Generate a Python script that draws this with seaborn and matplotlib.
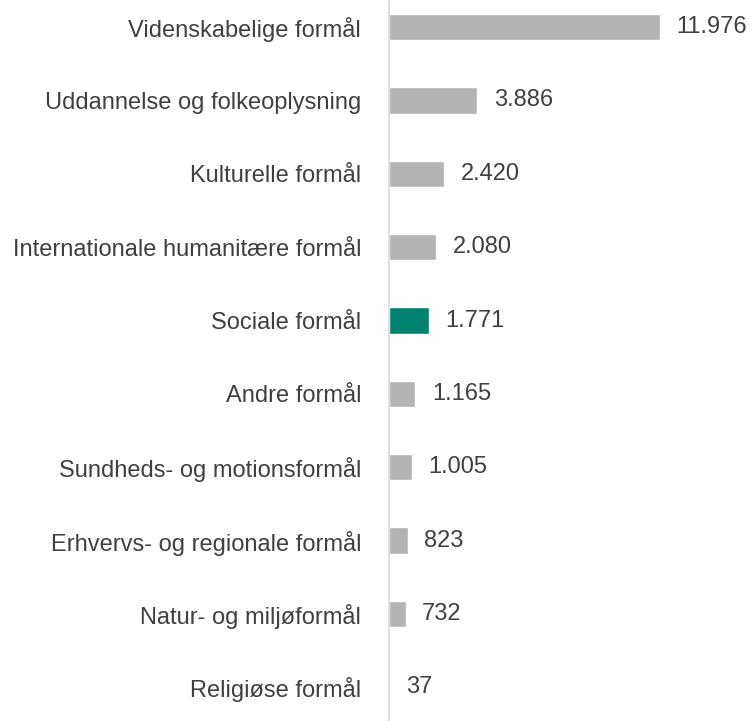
import matplotlib
matplotlib.use('Agg')
import matplotlib.pyplot as plt
import seaborn as sns
import pandas as pd

# data
categories = ['Videnskabelige formål', 'Uddannelse og folkeoplysning', 'Kulturelle formål',
              'Internationale humanitære formål', 'Sociale formål', 'Andre formål',
              'Sundheds- og motionsformål', 'Erhvervs- og regionale formål',
              'Natur- og miljøformål', 'Religiøse formål']
values = [11976, 3886, 2420, 2080, 1771, 1165, 1005, 823, 732, 37]
highlight = 'Sociale formål'

df = pd.DataFrame({'kategori': categories, 'beloeb': values})
colors = ['#00826e' if c == highlight else '#b4b4b4' for c in categories]

sns.set_style('white')
plt.rcParams['font.family'] = ['Liberation Sans', 'DejaVu Sans']

fig = plt.figure(figsize=(7.52, 7.21), dpi=100)
ax = fig.add_axes([389 / 752, 0, 356 / 752, 1])

sns.barplot(data=df, y='kategori', x='beloeb', hue='kategori', palette=colors,
            legend=False, width=0.36, saturation=1, ax=ax)

ax.set_xlim(0, 15732)
ax.set_ylim(9.46, -0.37)

for cont in ax.containers:
    labels = [f'{v:,.0f}'.replace(',', '.') for v in cont.datavalues]
    ax.bar_label(cont, labels=labels, padding=12, fontsize=17, color='#404040')

ax.set_xlabel('')
ax.set_ylabel('')
ax.set_xticks([])
ax.tick_params(axis='y', length=0, pad=20, labelsize=17, labelcolor='#404040')
for side in ['top', 'right', 'bottom']:
    ax.spines[side].set_visible(False)
ax.spines['left'].set_color('#d9d9d9')
ax.spines['left'].set_linewidth(1.2)

fig.savefig('out.png', dpi=100)
